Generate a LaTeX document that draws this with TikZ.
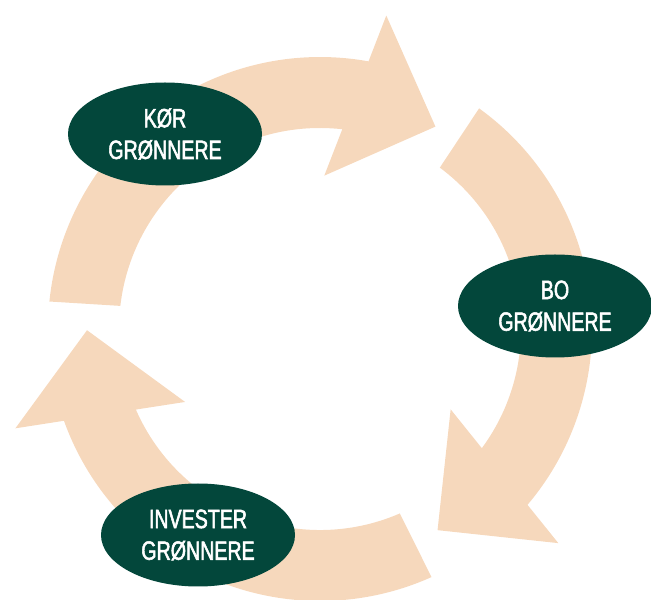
\documentclass[tikz,border=0pt]{standalone}
\usepackage{fontspec}
\setmainfont{Liberation Sans}[FakeStretch=0.74,FakeBold=2]
\usetikzlibrary{shapes.geometric}
\definecolor{peach}{HTML}{F6D8BC}
\definecolor{darkgreen}{HTML}{03473B}
\begin{document}
\begin{tikzpicture}[x=1pt,y=1pt,
  arrowband/.style={fill=peach, draw=none},
  bubble/.style={ellipse, fill=darkgreen, draw=none, minimum width=194pt, minimum height=103pt,
    inner sep=0pt, text=white, align=center, font=\fontsize{26.5}{31.7}\selectfont}]
\useasboundingbox (0,0) rectangle (651,600);
\foreach \r in {0,-120,120} {
  \begin{scope}[shift={(320,271)}, rotate=\r]
    \fill[arrowband] (174.2:272) arc[start angle=174.2, end angle=79.72, radius=272]
      -- (78.06:320.4) -- (60.3:233) -- (88.4:153.4) -- (83.63:201)
      arc[start angle=83.63, end angle=173.4, radius=201] -- cycle;
  \end{scope}
}
\node[bubble] (kor) at (165,466) {KØR\\GRØNNERE};
\node[bubble] (bo) at (555,294) {BO\\GRØNNERE};
\node[bubble] (inv) at (198,65) {INVESTER\\GRØNNERE};
\end{tikzpicture}
\end{document}
